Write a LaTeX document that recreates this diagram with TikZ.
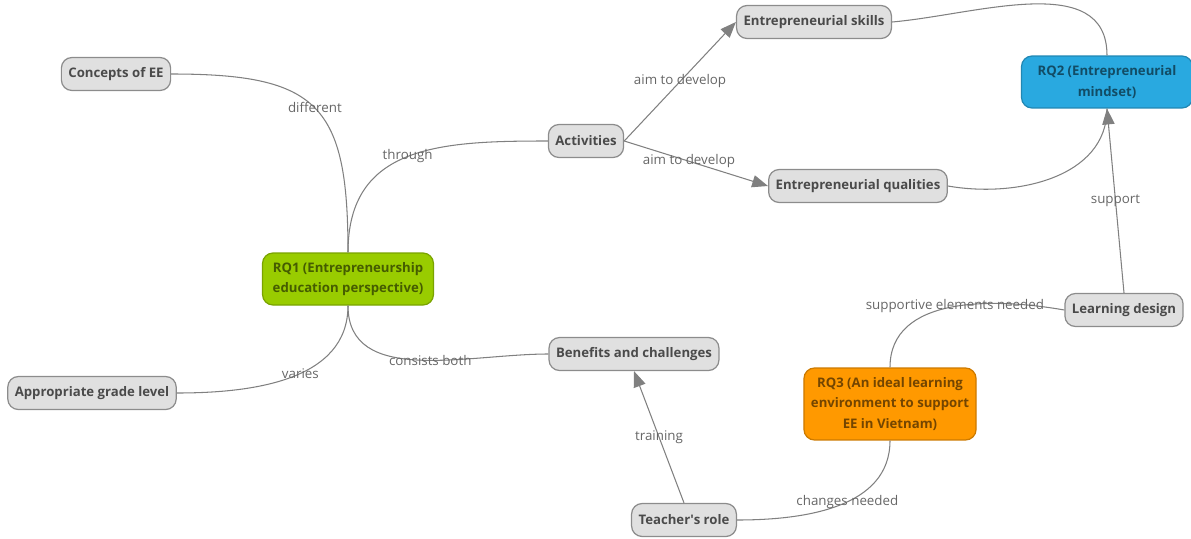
\documentclass[tikz,border=0pt]{standalone}
\usepackage{fontspec}
\setmainfont{Open Sans}
\usetikzlibrary{positioning,arrows.meta}

\definecolor{boxfill}{HTML}{E0E0E0}
\definecolor{boxline}{HTML}{8C8C8C}
\definecolor{boxtext}{HTML}{4A4A4A}
\definecolor{linkgray}{HTML}{808080}
\definecolor{lbltext}{HTML}{666666}
\definecolor{rqgreen}{HTML}{99CC00}
\definecolor{rqblue}{HTML}{29A9E0}
\definecolor{rqorange}{HTML}{FF9900}

\begin{document}
\begin{tikzpicture}[x=0.02cm, y=0.02cm,
  concept/.style={draw=boxline, fill=boxfill, rounded corners=6pt, line width=0.7pt,
    text=boxtext, font=\bfseries\fontsize{7.5}{11.5}\selectfont,
    minimum height=0.66cm, inner xsep=0.14cm},
  question/.style={concept, align=center, minimum width=3.42cm},
  link/.style={draw=linkgray, line width=0.6pt},
  lbl/.style={text=lbltext, font=\fontsize{7.6}{10}\selectfont, inner sep=1pt},
  tip/.style={-{Triangle[length=9pt, width=7pt]}}]
  \useasboundingbox (0,0) rectangle (1191,-538);
  % concepts
  \node[concept] (concepts) at (116,-74) {Concepts of EE};
  \node[concept] (grade) at (92,-393) {Appropriate grade level};
  \node[concept] (act) at (586,-141) {Activities};
  \node[concept] (skills) at (814,-22) {Entrepreneurial skills};
  \node[concept] (qual) at (858,-186) {Entrepreneurial qualities};
  \node[concept] (benefits) at (634,-354) {Benefits and challenges};
  \node[concept] (design) at (1124,-310) {Learning design};
  \node[concept] (teacher) at (684,-520) {Teacher\textquotesingle s role};
  % research questions
  \node[question, minimum height=1.04cm, fill=rqgreen, draw=rqgreen!80!black, text=rqgreen!45!black] (rq1) at (348,-279)
    {RQ1 (Entrepreneurship\\education perspective)};
  \node[question, minimum height=1.04cm, fill=rqblue, draw=rqblue!80!black, text=rqblue!45!black] (rq2) at (1107,-82)
    {RQ2 (Entrepreneurial\\mindset)};
  \node[question, minimum height=1.44cm, fill=rqorange, draw=rqorange!80!black, text=rqorange!45!black] (rq3) at (890,-404)
    {RQ3 (An ideal learning\\environment to support\\EE in Vietnam)};
  % links
  \draw[link] (concepts.east) to[out=0, in=90, looseness=1.5] node[lbl, pos=0.5] {different} (rq1.north);
  \draw[link] (rq1.north) to[out=90, in=180, looseness=1.2] node[lbl, pos=0.5] {through} (act.west);
  \draw[link] (rq1.south) to[out=-90, in=180] node[lbl, pos=0.55] {consists both} (benefits.west);
  \draw[link] (rq1.south) to[out=-90, in=0] node[lbl, pos=0.45] {varies} (grade.east);
  \draw[link, tip] (act.east) -- node[lbl, pos=0.5] {aim to develop} (skills.west);
  \draw[link, tip] (act.east) -- node[lbl, pos=0.45] {aim to develop} (qual.west);
  \draw[link] (skills.east) to[out=5, in=90] (rq2.north);
  \draw[link] (qual.east) to[out=-10, in=-90] (rq2.south);
  \draw[link, tip] (design.north) -- node[lbl, pos=0.5] {support} (rq2.south);
  \draw[link] (design.west) to[out=170, in=90] node[lbl, pos=0.48] {supportive elements needed} (rq3.north);
  \draw[link] (rq3.south) to[out=-90, in=0] node[lbl, pos=0.45] {changes needed} (teacher.east);
  \draw[link, tip] (teacher.north) -- node[lbl, pos=0.5] {training} (benefits.south);
\end{tikzpicture}
\end{document}
